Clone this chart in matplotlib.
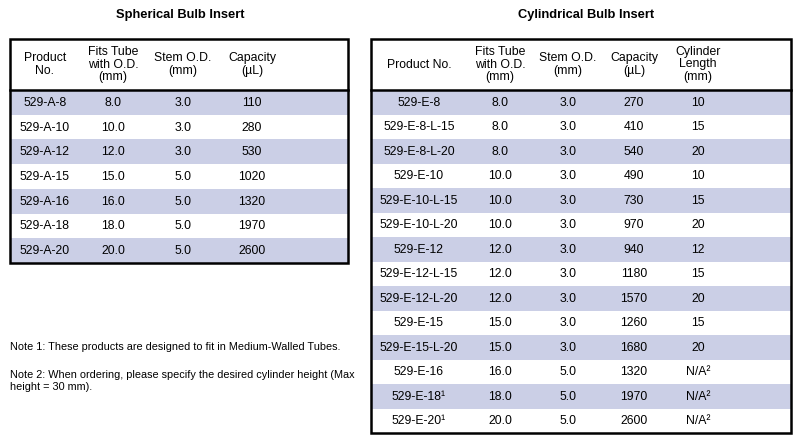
import matplotlib
matplotlib.use("Agg")
import matplotlib.pyplot as plt
from matplotlib.patches import Rectangle

plt.rcParams['font.family'] = ['Liberation Sans', 'DejaVu Sans']

sph_headers = ["Product\nNo.", "Fits Tube\nwith O.D.\n(mm)", "Stem O.D.\n(mm)", "Capacity\n(µL)"]
sph_products = ["529-A-8", "529-A-10", "529-A-12", "529-A-15", "529-A-16", "529-A-18", "529-A-20"]
sph_tube = ["8.0", "10.0", "12.0", "15.0", "16.0", "18.0", "20.0"]
sph_stem = ["3.0", "3.0", "3.0", "5.0", "5.0", "5.0", "5.0"]
sph_cap = ["110", "280", "530", "1020", "1320", "1970", "2600"]

cyl_headers = ["Product No.", "Fits Tube\nwith O.D.\n(mm)", "Stem O.D.\n(mm)", "Capacity\n(µL)", "Cylinder\nLength\n(mm)"]
cyl_products = ["529-E-8", "529-E-8-L-15", "529-E-8-L-20", "529-E-10", "529-E-10-L-15", "529-E-10-L-20",
                "529-E-12", "529-E-12-L-15", "529-E-12-L-20", "529-E-15", "529-E-15-L-20", "529-E-16",
                "529-E-18¹", "529-E-20¹"]
cyl_tube = ["8.0", "8.0", "8.0", "10.0", "10.0", "10.0", "12.0", "12.0", "12.0", "15.0", "15.0", "16.0", "18.0", "20.0"]
cyl_stem = ["3.0"] * 11 + ["5.0"] * 3
cyl_cap = ["270", "410", "540", "490", "730", "970", "940", "1180", "1570", "1260", "1680", "1320", "1970", "2600"]
cyl_len = ["10", "15", "20", "10", "15", "20", "12", "15", "20", "15", "20", "N/A²", "N/A²", "N/A²"]

notes = ["Note 1: These products are designed to fit in Medium-Walled Tubes.",
         "Note 2: When ordering, please specify the desired cylinder height (Max\nheight = 30 mm)."]

fig = plt.figure(figsize=(8.02, 4.42), dpi=100)
ax = fig.add_axes([0, 0, 1, 1])
ax.set_xlim(0, 802); ax.set_ylim(442, 0); ax.axis('off')

SH = '#cbcfe6'
FS = 8.8

def table(x0, x1, y0, yh, y1, colx, headers, cols):
    n = len(cols[0])
    rh = (y1 - yh) / n
    for i in range(n):
        ry = yh + i * rh
        if i % 2 == 0:
            ax.add_patch(Rectangle((x0, ry), x1 - x0, rh, color=SH, lw=0))
        for cx, col in zip(colx, cols):
            ax.text(cx, ry + rh / 2 + 0.5, col[i], ha='center', va='center', fontsize=FS)
    for cx, h in zip(colx, headers):
        ax.text(cx, (y0 + yh) / 2, h, ha='center', va='center', fontsize=FS, linespacing=1.05)
    ax.add_patch(Rectangle((x0, y0), x1 - x0, y1 - y0, fill=False, ec='black', lw=1.8))
    ax.plot([x0, x1], [yh, yh], color='black', lw=1.8)

table(10, 348, 39, 90, 263, [45, 113, 183, 252], sph_headers, [sph_products, sph_tube, sph_stem, sph_cap])
table(371, 791, 39, 90, 433, [419, 500, 568, 634, 698], cyl_headers,
      [cyl_products, cyl_tube, cyl_stem, cyl_cap, cyl_len])

ax.text(180, 15, "Spherical Bulb Insert", ha='center', va='center', fontsize=9.3, fontweight='bold')
ax.text(586, 15, "Cylindrical Bulb Insert", ha='center', va='center', fontsize=9.3, fontweight='bold')
ax.text(10, 347, notes[0], ha='left', va='center', fontsize=7.8)
ax.text(10, 381, notes[1], ha='left', va='center', fontsize=7.8, linespacing=1.15)

fig.savefig("out.png", dpi=100)
